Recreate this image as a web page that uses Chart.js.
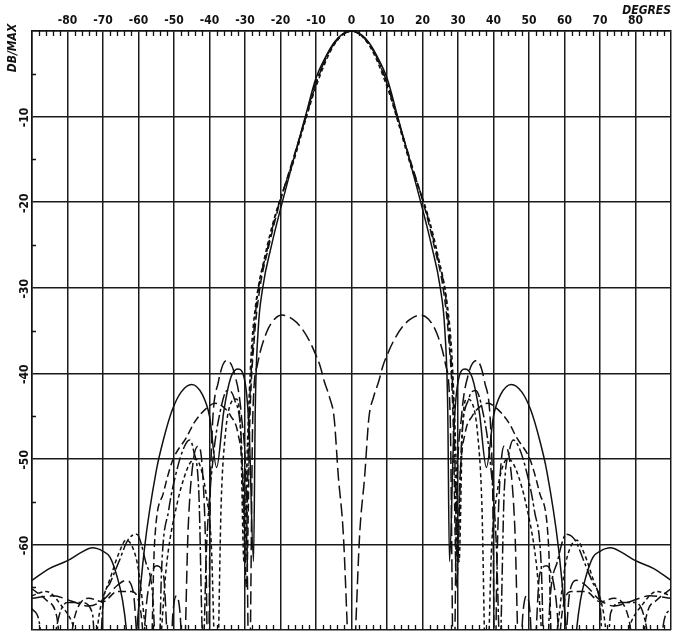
<!DOCTYPE html>
<html>
<head>
<meta charset="utf-8">
<script src="https://cdn.jsdelivr.net/npm/chart.js@4.4.0/dist/chart.umd.min.js"></script>
<style>
  html, body { margin: 0; padding: 0; background: #fff; }
  #wrap { width: 674px; height: 639px; }
</style>
</head>
<body>
<div id="wrap"><canvas id="pattern" width="674" height="639"></canvas></div>
<script>
// angle labels (top axis) and level labels (left axis)
const degreeTicks = [-80, -70, -60, -50, -40, -30, -20, -10, 0, 10, 20, 30, 40, 50, 60, 70, 80];
const dbTicks = [-10, -20, -30, -40, -50, -60];
const minorDbTicks = [-5, -15, -25, -35, -45, -55, -65];
const minorDegTicks = [-88, -86, -84, -82, -78, -76, -74, -72, -68, -66, -64, -62, -58, -56, -54, -52,
  -48, -46, -44, -42, -38, -36, -34, -32, -28, -26, -24, -22, -18, -16, -14, -12, -8, -6, -4, -2,
  2, 4, 6, 8, 12, 14, 16, 18, 22, 24, 26, 28, 32, 34, 36, 38, 42, 44, 46, 48,
  52, 54, 56, 58, 62, 64, 66, 68, 72, 74, 76, 78, 82, 84, 86, 88];

// [degrees, dB/max]
const solidPattern = [
  [-90, -64.2], [-85, -62.8], [-80, -61.9], [-76, -60.9], [-73, -60.4], [-70, -60.8], [-68, -61.5],
  [-66, -63.8], [-64.5, -66.5], [-63.4, -70], [-62, -78], [-60.5, -70], [-58.3, -60.4], [-55, -51.4],
  [-53, -47.8], [-50.5, -44.3], [-48, -42.2], [-45, -41.3], [-42, -42.5], [-40, -45], [-38, -51],
  [-36, -44.5], [-34, -40.5], [-32, -39.5], [-30, -41], [-28.8, -47], [-27.6, -62], [-27.1, -44],
  [-26.3, -35], [-25, -30], [-22.5, -25], [-19.5, -20], [-16, -14.5], [-13, -10], [-10, -5.5],
  [-7, -2.8], [-5, -1.4], [-3, -0.5], [0, 0], [3, -0.5], [5, -1.4], [7, -2.8], [10, -5.5],
  [13, -10], [16, -14.5], [19.5, -20], [22.5, -25], [25, -30], [26.3, -35], [27.1, -44],
  [27.6, -62], [28.8, -47], [30, -41], [32, -39.5], [34, -40.5], [36, -44.5], [38, -51], [40, -45],
  [42, -42.5], [45, -41.3], [48, -42.2], [50.5, -44.3], [53, -47.8], [55, -51.4], [58.3, -60.4],
  [60.5, -70], [62, -78], [63.4, -70], [64.5, -66.5], [66, -63.8], [68, -61.5], [70, -60.8],
  [73, -60.4], [76, -60.9], [80, -61.9], [85, -62.8], [90, -64.2]
];

const differencePattern = [
  [-90, -66.3], [-84, -66], [-79, -66.6], [-74, -67.2], [-70, -66.5], [-66, -64.8], [-63.5, -64.2],
  [-61.5, -65.5], [-59.5, -75], [-57.5, -66], [-55, -62.5], [-53, -63.5], [-51.2, -75], [-50.3, -68],
  [-49.3, -66], [-48.3, -68], [-47.3, -75], [-46, -58], [-44.5, -50], [-43, -48.5], [-41.5, -55],
  [-40.9, -64], [-40.4, -78], [-39.7, -52], [-37.5, -41], [-35.2, -38.5], [-33, -40], [-31, -45],
  [-29.6, -55], [-28.8, -78], [-27.8, -45], [-26.5, -39], [-24, -35.3], [-21.5, -33.6], [-19.5, -33.2],
  [-16.5, -33.7], [-14.3, -34.6], [-12, -36.1], [-10.2, -37.7], [-8.8, -39.2], [-7.7, -40.9],
  [-6.2, -42.8], [-4.9, -45.2], [-3.7, -52.1], [-2.3, -58.8], [-1.3, -68.5], [0, -82],
  [1.3, -68.5], [2.3, -58.8], [3.7, -52.1], [4.9, -45.2], [6.2, -42.8], [7.7, -40.9], [8.8, -39.2],
  [10.2, -37.7], [12, -36.1], [14.3, -34.6], [16.5, -33.7], [19.5, -33.2], [21.5, -33.6], [24, -35.3],
  [26.5, -39], [27.8, -45],
  [28.8, -78], [29.6, -55], [31, -45], [33, -40], [35.2, -38.5], [37.5, -41], [39.7, -52], [40.4, -78],
  [40.9, -64], [41.5, -55], [43, -48.5], [44.5, -50], [46, -58], [47.3, -75], [48.3, -68], [49.3, -66],
  [50.3, -68], [51.2, -75], [53, -63.5], [55, -62.5], [57.5, -66], [59.5, -75], [61.5, -65.5],
  [63.5, -64.2], [66, -64.8], [70, -66.5], [74, -67.2], [79, -66.6], [84, -66], [90, -66.3]
];

const dashedPattern = [
  [-90, -65.2], [-86, -66.5], [-83, -68.5], [-81, -76], [-78, -68.5], [-74, -66.3], [-70, -66.7],
  [-66, -65.5], [-62, -65.5], [-59.5, -67.5], [-56.8, -78], [-55.5, -60], [-53, -54], [-50.4, -50.2],
  [-46.5, -47.5], [-44.2, -45.7], [-40.6, -44], [-38.5, -43.5], [-36.5, -43.8], [-34, -45], [-32, -47],
  [-30.6, -52], [-29.6, -65], [-28.6, -45], [-27.4, -36], [-25.8, -30], [-23.5, -25.5], [-20.5, -20.5],
  [-16.5, -15], [-13, -10.3], [-10, -6.2], [-7, -3], [-5, -1.6], [-3, -0.6], [0, 0], [3, -0.6],
  [5, -1.6], [7, -3], [10, -6.2], [13, -10.3], [16.5, -15], [20.5, -20.5], [23.5, -25.5], [25.8, -30],
  [27.4, -36], [28.6, -45], [29.6, -65], [30.6, -52], [32, -47], [34, -45], [36.5, -43.8], [38.5, -43.5],
  [40.6, -44], [44.2, -45.7], [46.5, -47.5], [50.4, -50.2], [53, -54], [55.5, -60], [56.8, -78],
  [59.5, -67.5], [62, -65.5], [66, -65.5], [70, -66.7], [74, -66.3], [78, -68.5], [81, -76],
  [83, -68.5], [86, -66.5], [90, -65.2]
];

const dashDotPattern = [
  [-90, -67.5], [-88, -69], [-85.5, -78], [-83, -69.5], [-80, -66.8], [-76, -66.8], [-73, -68],
  [-71.5, -78], [-70, -67], [-68, -64.5], [-65.5, -62], [-63, -59.5], [-60.5, -58.8], [-58, -62],
  [-56, -66], [-54.5, -78], [-53.5, -63], [-51.5, -56], [-49, -51], [-47, -48.5], [-45.6, -47.8],
  [-44.5, -49], [-43, -54], [-41.8, -72], [-40.8, -60], [-39, -50], [-37, -44.5], [-35, -42],
  [-33, -43], [-31, -48], [-29.8, -62], [-28.9, -46], [-28, -38], [-26.5, -31], [-24, -26], [-21, -21],
  [-16.5, -15.2], [-13, -10.2], [-10, -6], [-5, -1.5], [0, 0], [5, -1.5], [10, -6], [13, -10.2],
  [16.5, -15.2], [21, -21], [24, -26], [26.5, -31], [28, -38], [28.9, -46], [29.8, -62], [31, -48],
  [33, -43], [35, -42], [37, -44.5], [39, -50], [40.8, -60], [41.8, -72], [43, -54], [44.5, -49],
  [45.6, -47.8], [47, -48.5], [49, -51], [51.5, -56], [53.5, -63], [54.5, -78], [56, -66], [58, -62],
  [60.5, -58.8], [63, -59.5], [65.5, -62], [68, -64.5], [70, -67], [71.5, -78], [73, -68], [76, -66.8],
  [80, -66.8], [83, -69.5], [85.5, -78], [88, -69], [90, -67.5]
];

const shortDashPattern = [
  [-90, -66], [-86, -65.5], [-82, -67], [-78, -70], [-74, -78], [-71, -68], [-68, -64], [-65.5, -61],
  [-63.5, -59.5], [-61.5, -60.5], [-60, -63], [-58, -70], [-55.5, -78], [-52, -62], [-49, -55],
  [-47, -52], [-45.5, -50.5], [-44, -50], [-42.5, -51], [-41, -54], [-39.5, -60], [-38, -78],
  [-36.7, -55], [-35.5, -47], [-34, -43.5], [-32.5, -43], [-31.3, -46], [-30.3, -62], [-29.3, -48],
  [-28.3, -38], [-27, -32], [-24.5, -26.5], [-21.5, -21.5], [-16.5, -15.5], [-13, -10.5], [-10, -6.5],
  [-5, -1.7], [0, 0], [5, -1.7], [10, -6.5], [13, -10.5], [16.5, -15.5], [21.5, -21.5], [24.5, -26.5],
  [27, -32], [28.3, -38], [29.3, -48], [30.3, -62], [31.3, -46], [32.5, -43], [34, -43.5], [35.5, -47],
  [36.7, -55], [38, -78], [39.5, -60], [41, -54], [42.5, -51], [44, -50], [45.5, -50.5], [47, -52],
  [49, -55], [52, -62], [55.5, -78], [58, -70], [60, -63], [61.5, -60.5], [63.5, -59.5], [65.5, -61],
  [68, -64], [71, -68], [74, -78], [78, -70], [82, -67], [86, -65.5], [90, -66]
];

const FONT = '"DejaVu Sans Condensed", "Liberation Sans Narrow", sans-serif';
const INK = '#111';

function toPoints(pairs) {
  return pairs.map(p => ({ x: p[0], y: p[1] }));
}

function curve(pairs, dash) {
  return {
    data: toPoints(pairs),
    borderColor: INK,
    borderWidth: 1.5,
    borderDash: dash,
    pointRadius: 0,
    fill: false,
    cubicInterpolationMode: 'monotone',
    tension: 0.4
  };
}

// small ticks, rotated level labels and axis titles
const plotterMarks = {
  id: 'plotterMarks',
  afterDraw(chart) {
    const { ctx, chartArea, scales } = chart;
    const xs = scales.x, ys = scales.y;
    ctx.save();
    ctx.strokeStyle = INK;
    ctx.lineWidth = 1.3;
    ctx.beginPath();
    minorDegTicks.forEach(d => {
      const px = Math.round(xs.getPixelForValue(d)) + 0.5;
      ctx.moveTo(px, chartArea.top);
      ctx.lineTo(px, chartArea.top + 5);
      ctx.moveTo(px, chartArea.bottom);
      ctx.lineTo(px, chartArea.bottom - 5);
    });
    minorDbTicks.forEach(v => {
      const py = Math.round(ys.getPixelForValue(v)) + 0.5;
      ctx.moveTo(chartArea.left, py);
      ctx.lineTo(chartArea.left + 4, py);
    });
    ctx.stroke();

    ctx.fillStyle = INK;
    ctx.font = 'bold 12px ' + FONT;
    ctx.textAlign = 'center';
    ctx.textBaseline = 'middle';
    dbTicks.forEach(v => {
      ctx.save();
      ctx.translate(chartArea.left - 7, ys.getPixelForValue(v) + 1);
      ctx.rotate(-Math.PI / 2);
      ctx.fillText(String(v), 0, 0);
      ctx.restore();
    });

    ctx.font = 'italic bold 12px ' + FONT;
    ctx.save();
    ctx.translate(13, chartArea.top + 17);
    ctx.rotate(-Math.PI / 2);
    ctx.fillText('DB/MAX', 0, 0);
    ctx.restore();

    ctx.textAlign = 'right';
    ctx.textBaseline = 'alphabetic';
    ctx.fillText('DEGRES', chartArea.right, 14);
    ctx.restore();
  }
};

const gridStyle = { color: '#1a1a1a', lineWidth: 1.5, drawTicks: false };

new Chart(document.getElementById('pattern'), {
  type: 'line',
  data: {
    datasets: [
      curve(solidPattern, []),
      curve(differencePattern, [13, 5]),
      curve(dashedPattern, [8, 4]),
      curve(dashDotPattern, [12, 3, 3, 3]),
      curve(shortDashPattern, [4, 3])
    ]
  },
  options: {
    responsive: false,
    animation: false,
    devicePixelRatio: 1,
    layout: { padding: { left: 0, right: 2, top: 0, bottom: 9 } },
    plugins: { legend: { display: false }, tooltip: { enabled: false } },
    scales: {
      x: {
        type: 'linear',
        position: 'top',
        min: -90,
        max: 90,
        grid: gridStyle,
        border: { display: true, color: INK, width: 1.5 },
        ticks: {
          stepSize: 10,
          autoSkip: false,
          maxRotation: 0,
          padding: 3,
          color: INK,
          font: { family: FONT, size: 12, weight: 'bold' },
          callback: v => degreeTicks.includes(v) ? String(v) : ''
        },
        afterFit: s => { s.height = 31; }
      },
      y: {
        min: -70,
        max: 0,
        grid: gridStyle,
        border: { display: true, color: INK, width: 1.5 },
        ticks: { stepSize: 10, display: false },
        afterFit: s => { s.width = 32; }
      }
    }
  },
  plugins: [plotterMarks]
});
</script>
</body>
</html>
